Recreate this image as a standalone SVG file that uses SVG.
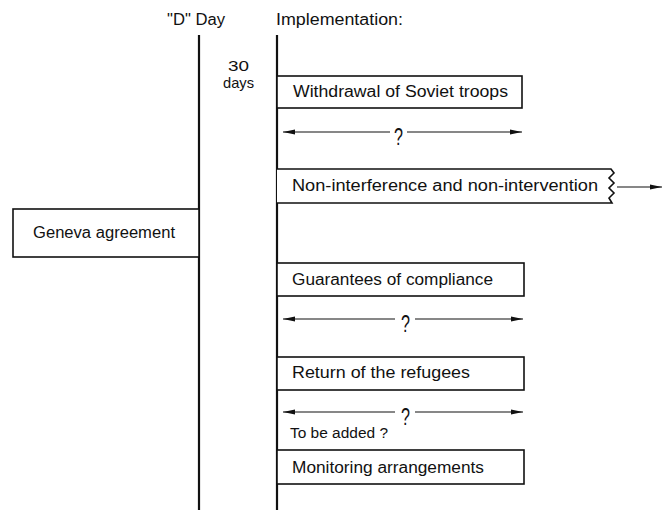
<svg xmlns="http://www.w3.org/2000/svg" width="665" height="510" viewBox="0 0 665 510">
<style>
  text { font-family: "Liberation Sans", Arial, sans-serif; font-size: 16px; fill: #111; }
  .small { font-size: 14px; }
  .mid { font-size: 15px; }
  .q { font-size: 24px; }
  .box { fill: #fff; stroke: #111; stroke-width: 1.6; }
  .axis { stroke: #111; stroke-width: 2.2; fill: none; }
  .conn { stroke: #111; stroke-width: 1.2; fill: none; }
</style>
<defs>
  <marker id="ah" viewBox="0 0 12 6" refX="12" refY="3" markerWidth="12" markerHeight="6" markerUnits="userSpaceOnUse" orient="auto-start-reverse">
    <path d="M0,0.6 L12,3 L0,5.4 Z" fill="#111"/>
  </marker>
</defs>
<rect width="665" height="510" fill="#fff"/>

<g id="headers">
  <text x="167" y="25" textLength="58" lengthAdjust="spacingAndGlyphs">"D" Day</text>
  <text x="276" y="25" textLength="127" lengthAdjust="spacingAndGlyphs">Implementation:</text>
  <text class="mid" x="228" y="71" textLength="21" lengthAdjust="spacingAndGlyphs">30</text>
  <text class="mid" x="223" y="88" textLength="31" lengthAdjust="spacingAndGlyphs">days</text>
</g>

<g id="timelines">
  <line class="axis" x1="199" y1="35" x2="199" y2="510"/>
  <line class="axis" x1="277" y1="35" x2="277" y2="510"/>
</g>

<g id="geneva">
  <rect class="box" x="13" y="209" width="186" height="48"/>
  <text x="33" y="238" textLength="142" lengthAdjust="spacingAndGlyphs">Geneva agreement</text>
</g>

<g id="withdrawal">
  <rect class="box" x="277" y="76" width="245" height="32"/>
  <text x="293" y="97" textLength="215" lengthAdjust="spacingAndGlyphs">Withdrawal of Soviet troops</text>
</g>

<g id="noninterference">
  <path class="box" d="M277,169 L611,169 L614,173 L609,178 L614,183 L609,188 L614,193 L609,198 L612,203 L277,203"/>
  <text x="292" y="191" textLength="306" lengthAdjust="spacingAndGlyphs">Non-interference and non-intervention</text>
</g>

<g id="guarantees">
  <rect class="box" x="277" y="263" width="247" height="33"/>
  <text x="292" y="285" textLength="201" lengthAdjust="spacingAndGlyphs">Guarantees of compliance</text>
</g>

<g id="refugees">
  <rect class="box" x="277" y="357" width="247" height="33"/>
  <text x="292" y="378" textLength="178" lengthAdjust="spacingAndGlyphs">Return of the refugees</text>
</g>

<g id="monitoring">
  <rect class="box" x="277" y="450" width="247" height="34"/>
  <text x="292" y="473" textLength="192" lengthAdjust="spacingAndGlyphs">Monitoring arrangements</text>
</g>

<g id="connectors">
  <line class="conn" x1="390" y1="132" x2="283" y2="132" marker-end="url(#ah)"/>
  <line class="conn" x1="407" y1="132" x2="522" y2="132" marker-end="url(#ah)"/>
  <text class="q" x="394" y="145" textLength="9" lengthAdjust="spacingAndGlyphs">?</text>

  <line class="conn" x1="617" y1="187" x2="662" y2="187" marker-end="url(#ah)"/>

  <line class="conn" x1="395" y1="319" x2="283" y2="319" marker-end="url(#ah)"/>
  <line class="conn" x1="415" y1="319" x2="523" y2="319" marker-end="url(#ah)"/>
  <text class="q" x="401" y="332" textLength="9" lengthAdjust="spacingAndGlyphs">?</text>

  <line class="conn" x1="395" y1="412" x2="283" y2="412" marker-end="url(#ah)"/>
  <line class="conn" x1="415" y1="412" x2="523" y2="412" marker-end="url(#ah)"/>
  <text class="q" x="401" y="425" textLength="9" lengthAdjust="spacingAndGlyphs">?</text>
  <text class="small" x="290" y="438" textLength="98" lengthAdjust="spacingAndGlyphs">To be added ?</text>
</g>
</svg>
